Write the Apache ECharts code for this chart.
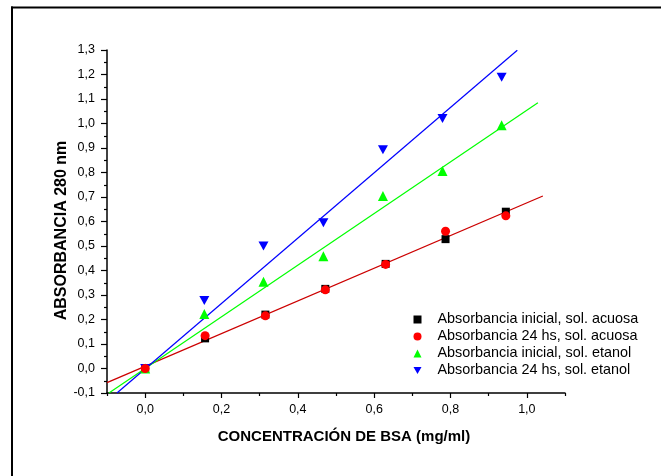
<!DOCTYPE html>
<html>
<head>
<meta charset="utf-8">
<script src="https://cdn.jsdelivr.net/npm/echarts@6/dist/echarts.min.js"></script>
<style>
html,body{margin:0;padding:0;background:#fff;overflow:hidden;}
#chart{width:661px;height:476px;}
</style>
</head>
<body>
<div id="chart"></div>
<script>
// ---- data ----
var seriesNames = [
  'Absorbancia inicial, sol. acuosa',
  'Absorbancia 24 hs, sol. acuosa',
  'Absorbancia inicial, sol. etanol',
  'Absorbancia 24 hs, sol. etanol'
];
var concAcuosa = [0, 0.157, 0.315, 0.472, 0.63, 0.787, 0.945];
var concEtanol = [0, 0.155, 0.31, 0.467, 0.623, 0.779, 0.934];
var absInicialAcuosa = [0, 0.123, 0.22, 0.325, 0.427, 0.528, 0.64];
var abs24Acuosa = [0, 0.134, 0.215, 0.321, 0.425, 0.56, 0.623];
var absInicialEtanol = [0, 0.222, 0.354, 0.458, 0.704, 0.806, 0.993];
var abs24Etanol = [0, 0.278, 0.5, 0.595, 0.893, 1.02, 1.189];
// fitted lines (start / end)
var fitAcuosaX = [-0.1, 1.042];
var fitAcuosaY = [-0.058, 0.704];
var fitInicialEtanolX = [-0.095, 1.029];
var fitInicialEtanolY = [-0.1, 1.085];
var fit24EtanolX = [-0.074, 0.975];
var fit24EtanolY = [-0.1, 1.299];
var xMajorTicks = [0, 0.2, 0.4, 0.6, 0.8, 1.0];
var xMinorTicks = [-0.1, 0.1, 0.3, 0.5, 0.7, 0.9, 1.1];

function pairs(xs, ys) { return xs.map(function (x, i) { return [x, ys[i]]; }); }
function fmt(v) { return (Math.round(v * 10) / 10).toFixed(1).replace('.', ','); }

var FONT = '"Liberation Sans", Arial, sans-serif';
var DOWN_TRIANGLE = 'path://M0,0 L10,0 L5,9 Z';
var chart = echarts.init(document.getElementById('chart'));

chart.setOption({
  animation: false,
  backgroundColor: '#fff',
  textStyle: { fontFamily: FONT },
  graphic: [{
    type: 'line',
    shape: { x1: 12, y1: 6.5, x2: 12, y2: 476 },
    style: { stroke: '#000', lineWidth: 2 },
    silent: true
  }, {
    type: 'line',
    shape: { x1: 11, y1: 7.5, x2: 661, y2: 7.5 },
    style: { stroke: '#000', lineWidth: 2 },
    silent: true
  }],
  grid: { left: 107, top: 50, right: 96, bottom: 83, containLabel: false },
  legend: {
    orient: 'vertical',
    left: 408.5,
    top: 306,
    itemWidth: 8,
    itemHeight: 8,
    itemGap: 0,
    textStyle: { fontFamily: FONT, fontSize: 14.4, color: '#000', lineHeight: 17, padding: [0, 0, 0, 11] },
    data: [
      { name: seriesNames[0], icon: 'rect', itemStyle: { color: '#000' } },
      { name: seriesNames[1], icon: 'circle', itemStyle: { color: '#ff0000' } },
      { name: seriesNames[2], icon: 'triangle', itemStyle: { color: '#00ff00' } },
      { name: seriesNames[3], icon: DOWN_TRIANGLE, itemStyle: { color: '#0000ff' } }
    ]
  },
  xAxis: [{
    type: 'value',
    min: -0.1, max: 1.1, interval: 0.1,
    name: 'CONCENTRACIÓN DE BSA (mg/ml)',
    nameLocation: 'middle',
    nameGap: 36,
    nameMoveOverlap: false,
    nameTextStyle: { fontFamily: FONT, fontSize: 15, fontWeight: 'bold', color: '#000', padding: [0, 0, 0, 16] },
    axisLine: { onZero: false, lineStyle: { color: '#000', width: 1.5 } },
    axisTick: { inside: false, length: 5, customValues: xMajorTicks, lineStyle: { color: '#000', width: 1.2 } },
    axisLabel: { customValues: xMajorTicks, formatter: fmt, fontFamily: FONT, fontSize: 12.5, color: '#000', margin: 10 },
    splitLine: { show: false }
  }, {
    type: 'value',
    min: -0.1, max: 1.1, interval: 0.1,
    position: 'bottom',
    axisLine: { show: false, onZero: false },
    axisTick: { inside: false, length: 3, customValues: xMinorTicks, lineStyle: { color: '#000', width: 1.2 } },
    axisLabel: { show: false },
    splitLine: { show: false }
  }],
  yAxis: {
    type: 'value',
    min: -0.1, max: 1.3, interval: 0.1,
    name: 'ABSORBANCIA 280 nm',
    nameLocation: 'middle',
    nameGap: 37,
    nameMoveOverlap: false,
    nameTextStyle: { fontFamily: FONT, fontSize: 16, fontWeight: 'bold', color: '#000', padding: [0, 18, 0, 0] },
    axisLine: { onZero: false, lineStyle: { color: '#000', width: 1.5 } },
    axisTick: { inside: false, length: 6, lineStyle: { color: '#000', width: 1.2 } },
    minorTick: { show: true, splitNumber: 2, length: 3, lineStyle: { color: '#000', width: 1.2 } },
    axisLabel: { formatter: fmt, fontFamily: FONT, fontSize: 12.5, color: '#000', margin: 12 },
    splitLine: { show: false }
  },
  series: [
    { type: 'line', name: 'fit1', data: pairs(fitAcuosaX, fitAcuosaY), showSymbol: false, symbol: 'none', silent: true,
      lineStyle: { color: '#cc0000', width: 1.3 }, z: 1 },
    { type: 'line', name: 'fit2', data: pairs(fitInicialEtanolX, fitInicialEtanolY), showSymbol: false, symbol: 'none', silent: true,
      lineStyle: { color: '#00ff00', width: 1.2 }, z: 1 },
    { type: 'line', name: 'fit3', data: pairs(fit24EtanolX, fit24EtanolY), showSymbol: false, symbol: 'none', silent: true,
      lineStyle: { color: '#0000ff', width: 1.2 }, z: 1 },
    { type: 'scatter', name: seriesNames[0], data: pairs(concAcuosa, absInicialAcuosa),
      symbol: 'rect', symbolSize: 8, itemStyle: { color: '#000', opacity: 1 }, z: 3 },
    { type: 'scatter', name: seriesNames[1], data: pairs(concAcuosa, abs24Acuosa),
      symbol: 'circle', symbolSize: 9, itemStyle: { color: '#ff0000', opacity: 1 }, z: 4 },
    { type: 'scatter', name: seriesNames[2], data: pairs(concEtanol, absInicialEtanol),
      symbol: 'triangle', symbolSize: 10, itemStyle: { color: '#00ff00', opacity: 1 }, z: 3 },
    { type: 'scatter', name: seriesNames[3], data: pairs(concEtanol, abs24Etanol),
      symbol: DOWN_TRIANGLE, symbolSize: [10, 9], itemStyle: { color: '#0000ff', opacity: 1 }, z: 3 }
  ]
});
</script>
</body>
</html>
